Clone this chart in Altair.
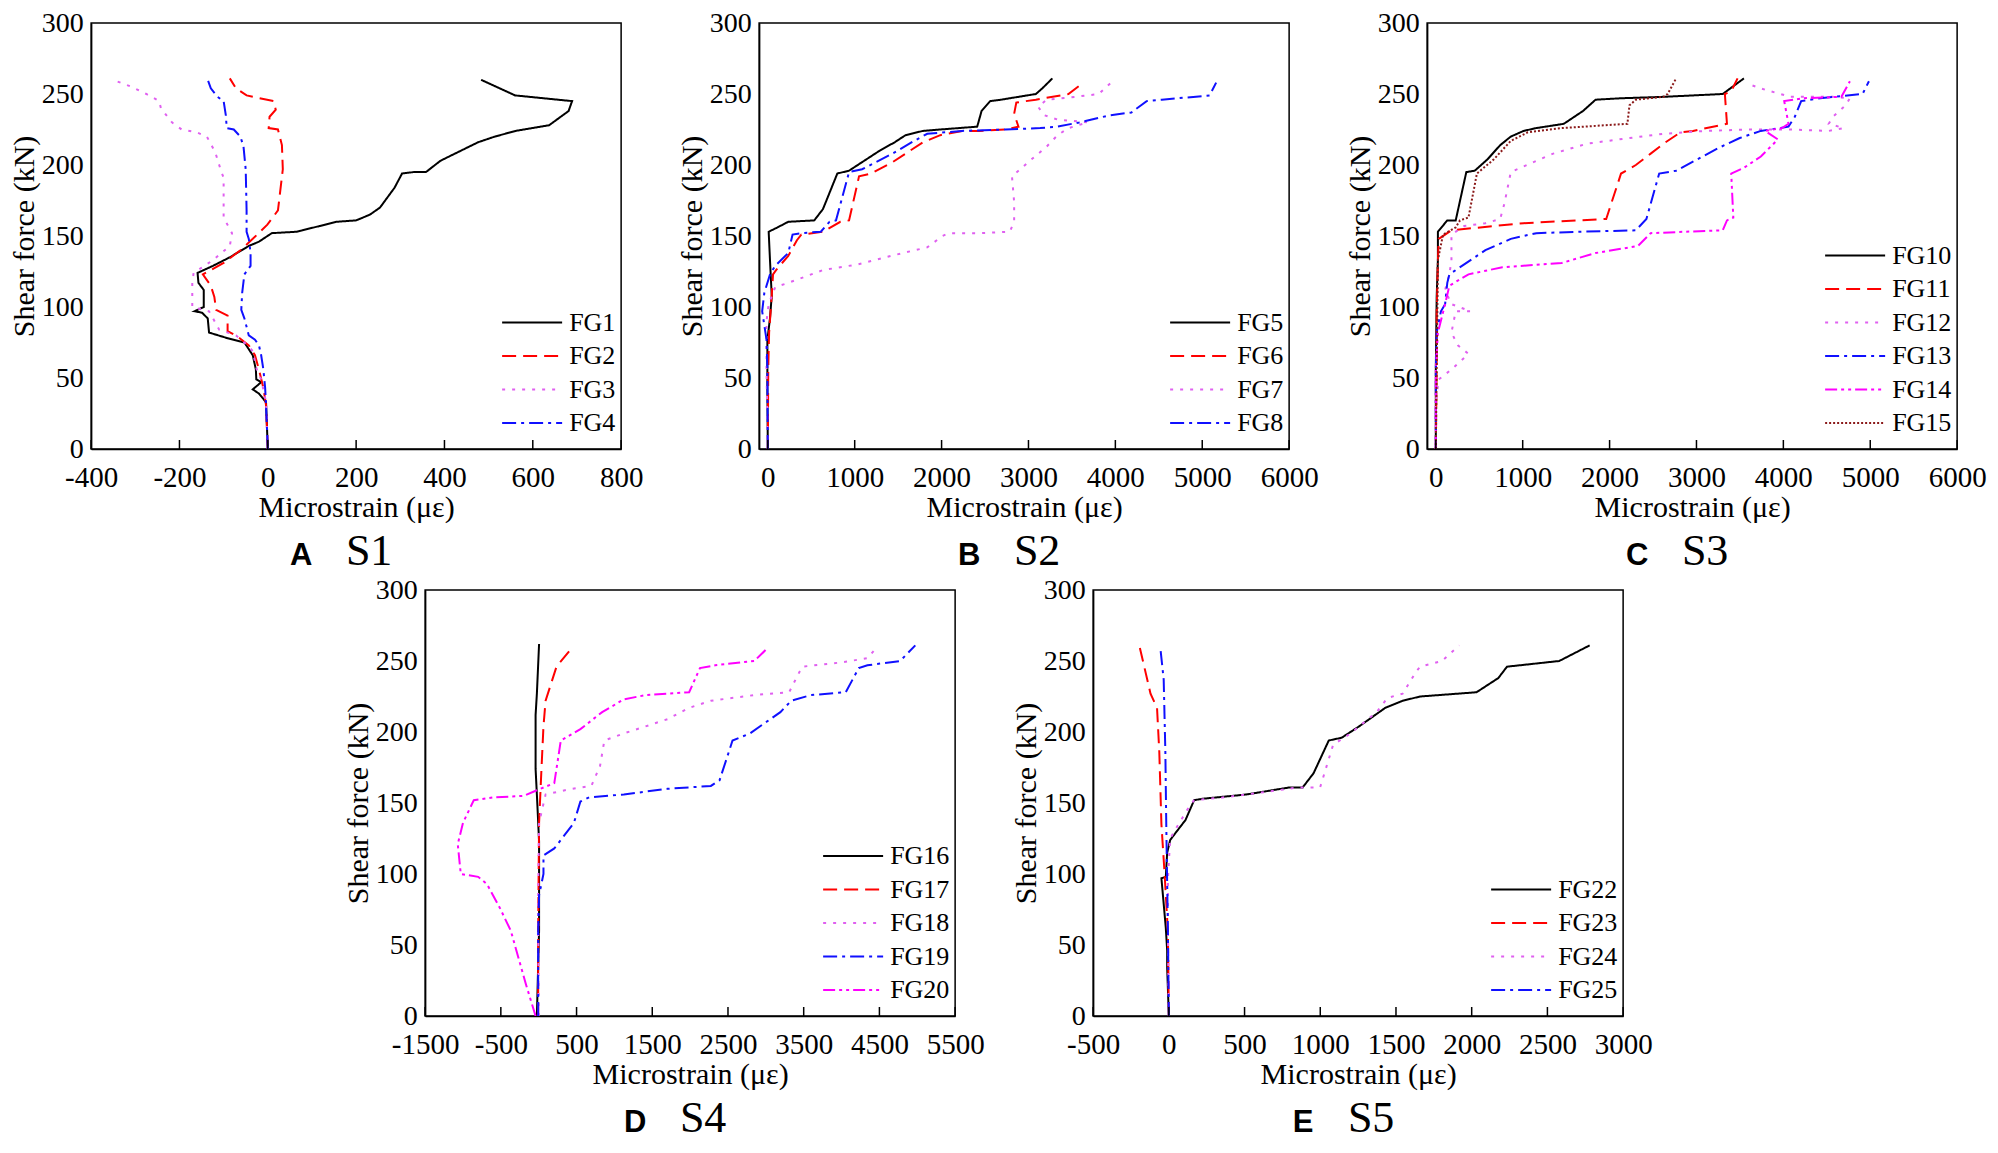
import altair as alt
import pandas as pd

# ---------------- shared ----------------
Y_TICKS = [0, 50, 100, 150, 200, 250, 300]
X_TITLE = "Microstrain (με)"
Y_TITLE = "Shear force (kN)"

# ---------------- Panel A : S1 ----------------
A_XDOM = [-400, 800]
A_XTICKS = [-400, -200, 0, 200, 400, 600, 800]
A_NAMES = ["FG1", "FG2", "FG3", "FG4"]
FG1_x = [0, -4, -20, -34, -15, -26, -27, -34, -53, -91, -133, -136, -149, -166, -145, -145, -157, -159, -124, -86,
         -43, -20, 9, 65, 117, 155, 200, 231, 254, 287, 304, 330, 358, 391, 476, 514, 561, 637, 681, 689, 560, 483]
FG1_y = [0, 33, 39, 42, 47, 49, 56, 66, 75, 78, 82, 92, 96, 97, 100, 112, 117, 124, 129, 135,
         143, 146, 152, 153, 157, 160, 161, 165, 170, 184, 194, 195, 195, 203, 216, 220, 224, 228, 238, 245, 249, 260]
FG2_x = [0, -4, -10, -20, -29, -43, -72, -91, -91, -117, -121, -129, -147, -100, -62, -34, -1, 23, 34, 32, 23, 2, 4, 18, 13, -48, -72, -86]
FG2_y = [0, 31, 43, 56, 66, 73, 80, 83, 94, 98, 107, 115, 123, 131, 140, 148, 158, 168, 197, 214, 225, 226, 234, 239, 245, 249, 254, 261]
FG3_x = [0, -4, -15, -25, -34, -53, -72, -110, -124, -133, -171, -171, -168, -124, -86, -81, -100, -100, -105, -119, -138, -161, -195, -217, -242, -246, -275, -308, -351]
FG3_y = [0, 33, 49, 56, 69, 75, 80, 84, 92, 97, 100, 117, 124, 133, 143, 152, 163, 191, 195, 209, 220, 223, 225, 230, 240, 245, 250, 255, 260]
FG4_x = [0, -4, -6, -10, -15, -20, -29, -43, -53, -60, -58, -53, -39, -39, -43, -48, -48, -50, -55, -62, -77, -93, -95, -100, -114, -129, -136]
FG4_y = [0, 31, 43, 56, 66, 73, 77, 80, 92, 98, 110, 123, 129, 138, 148, 153, 168, 197, 213, 220, 225, 226, 235, 245, 248, 254, 260]

# ---------------- Panel B : S2 ----------------
B_XDOM = [-100, 6000]
B_XTICKS = [0, 1000, 2000, 3000, 4000, 5000, 6000]
B_NAMES = ["FG5", "FG6", "FG7", "FG8"]
FG5_x = [0, -5, -5, 25, 45, 25, 10, 110, 235, 535, 635, 800, 935, 1085, 1285, 1460, 1585, 1785, 1985, 2410, 2460, 2560, 2685, 3085, 3160, 3275]
FG5_y = [0, 44, 77, 92, 108, 133, 153, 156, 160, 161, 169, 194, 196, 202, 210, 216, 221, 224, 225, 227, 238, 245, 246, 250, 254, 261]
FG6_x = [0, 5, 15, 45, 60, 95, 235, 335, 385, 635, 835, 935, 1050, 1185, 1435, 1585, 1785, 1985, 2235, 2435, 2735, 2885, 2835, 2860, 3085, 3460, 3610]
FG6_y = [0, 57, 82, 108, 123, 126, 136, 147, 151, 153, 160, 161, 192, 194, 202, 208, 216, 221, 224, 224, 225, 227, 236, 244, 246, 250, 257]
FG7_x = [0, -15, -15, 10, 85, 235, 635, 1035, 1485, 1835, 2010, 2085, 2435, 2785, 2835, 2835, 2810, 2885, 3035, 3210, 3335, 3460, 3685, 3335, 3185, 3110, 3210, 3535, 3810, 3985]
FG7_y = [0, 57, 90, 102, 114, 117, 126, 130, 137, 142, 150, 152, 152, 153, 160, 174, 192, 196, 204, 213, 221, 226, 230, 232, 235, 241, 246, 248, 250, 260]
FG8_x = [0, -5, -15, -40, -65, -40, 25, 85, 235, 285, 385, 610, 710, 785, 935, 1085, 1435, 1685, 1835, 2235, 2735, 3135, 3335, 3585, 3935, 4185, 4360, 4535, 5085, 5160]
FG8_y = [0, 57, 77, 87, 97, 110, 123, 129, 138, 151, 152, 153, 160, 161, 195, 197, 208, 217, 222, 224, 225, 226, 227, 230, 235, 237, 245, 246, 249, 258]

# ---------------- Panel C : S3 ----------------
C_XDOM = [-100, 6000]
C_XTICKS = [0, 1000, 2000, 3000, 4000, 5000, 6000]
C_NAMES = ["FG10", "FG11", "FG12", "FG13", "FG14", "FG15"]
FG10_x = [0, 0, 10, 24, 24, 132, 229, 351, 449, 595, 741, 863, 1010, 1156, 1473, 1693, 1839, 2132, 2620, 3302, 3546]
FG10_y = [0, 56, 107, 133, 153, 161, 161, 195, 196, 204, 214, 220, 224, 226, 229, 238, 246, 247, 248, 250, 261]
FG11_x = [0, 10, 10, 24, 34, 180, 668, 1010, 1961, 2132, 2302, 2473, 2620, 2815, 2961, 3351, 3327, 3400, 3473]
FG11_y = [0, 56, 95, 133, 148, 154, 157, 159, 162, 194, 200, 208, 215, 223, 224, 229, 250, 252, 261]
FG12_x = [0, -5, 34, 180, 376, 254, 180, 229, 400, 180, 107, 156, 180, 180, 327, 571, 741, 790, 863, 1010,
          1351, 1741, 2229, 2620, 3107, 3595, 4083, 4522, 4693, 4522, 4571, 4717, 4766, 4571, 4083, 3790, 3595]
FG12_y = [0, 31, 49, 56, 67, 73, 82, 97, 97, 102, 112, 123, 133, 151, 157, 159, 162, 173, 195, 199,
          208, 215, 219, 222, 224, 225, 225, 224, 226, 229, 234, 242, 247, 248, 248, 253, 257]
FG13_x = [0, 0, 10, 59, 107, 132, 156, 327, 571, 863, 1156, 1644, 2302, 2424, 2571, 2766, 3010, 3254, 3498, 3741, 4059, 4132, 4205, 4424, 4912, 4985]
FG13_y = [0, 56, 82, 97, 102, 117, 123, 130, 140, 148, 152, 153, 154, 162, 194, 196, 204, 212, 219, 224, 227, 234, 245, 247, 250, 259]
FG14_x = [0, 0, 24, 107, 156, 376, 766, 1449, 1839, 2327, 2473, 2863, 3302, 3351, 3424, 3400, 3546, 3741, 3888, 3937, 3790, 3985, 4059, 4010, 4229, 4668, 4766]
FG14_y = [0, 56, 82, 102, 115, 123, 128, 131, 138, 143, 152, 153, 154, 161, 163, 194, 198, 206, 215, 218, 224, 226, 229, 245, 247, 248, 259]
FG15_x = [0, 10, 24, 83, 229, 278, 376, 473, 668, 863, 1059, 1449, 2205, 2229, 2302, 2620, 2668, 2766]
FG15_y = [0, 56, 133, 151, 156, 161, 163, 194, 204, 217, 223, 226, 229, 242, 246, 248, 250, 261]

# ---------------- Panel D : S4 ----------------
D_XDOM = [-1500, 5500]
D_XTICKS = [-1500, -500, 500, 1500, 2500, 3500, 4500, 5500]
D_NAMES = ["FG16", "FG17", "FG18", "FG19", "FG20"]
FG16_x = [-24, 5, 5, -24, -41, -41, -24, 5]
FG16_y = [0, 60, 123, 156, 174, 212, 227, 262]
FG17_x = [-7, -7, 5, 34, 63, 91, 235, 436]
FG17_y = [0, 60, 136, 171, 204, 222, 246, 259]
FG18_x = [0, -7, 5, 91, 436, 695, 810, 867, 1125, 1700, 1987, 2274, 2848, 3308, 3422, 3480, 3997, 4342, 4457]
FG18_y = [0, 85, 136, 156, 160, 162, 176, 194, 199, 209, 217, 222, 226, 228, 240, 246, 249, 252, 259]
FG19_x = [-7, -7, 5, 63, 63, 206, 465, 551, 666, 1125, 1700, 2274, 2389, 2560, 2790, 3192, 3336, 3595, 4055, 4227, 4342, 4773, 4974]
FG19_y = [0, 60, 85, 100, 113, 118, 136, 151, 154, 156, 160, 162, 166, 194, 199, 214, 222, 226, 228, 245, 247, 250, 261]
FG20_x = [-41, -167, -368, -512, -684, -799, -1029, -1069, -1000, -857, -598, -196, -24, 206, 292, 551, 838, 1125, 1412, 1987, 2130, 2331, 2848, 3020]
FG20_y = [0, 22, 60, 76, 93, 98, 100, 121, 136, 152, 154, 155, 159, 164, 194, 202, 214, 223, 226, 228, 245, 247, 250, 259]

# ---------------- Panel E : S5 ----------------
E_XDOM = [-500, 3000]
E_XTICKS = [-500, 0, 500, 1000, 1500, 2000, 2500, 3000]
E_NAMES = ["FG22", "FG23", "FG24", "FG25"]
FG22_x = [0, -11, -11, -20, -34, -49, -20, -11, 9, 52, 110, 167, 225, 512, 799, 884, 956, 1056, 1142, 1257, 1429, 1544, 1659, 2032, 2176, 2233, 2578, 2779]
FG22_y = [0, 34, 46, 62, 79, 97, 98, 115, 124, 130, 138, 152, 153, 156, 161, 161, 171, 194, 196, 204, 217, 222, 225, 228, 238, 246, 250, 261]
FG23_x = [0, -6, -29, -49, -63, -78, -121, -193]
FG23_y = [0, 59, 102, 135, 186, 217, 227, 260]
FG24_x = [0, -6, -6, 9, 52, 138, 167, 368, 655, 856, 999, 1085, 1200, 1372, 1444, 1544, 1630, 1659, 1803, 1918]
FG24_y = [0, 59, 97, 125, 133, 148, 152, 154, 158, 161, 161, 191, 199, 214, 224, 227, 242, 246, 250, 261]
FG25_x = [0, -6, -17, -23, -34, -57]
FG25_y = [0, 59, 135, 186, 237, 260]

# ---------------- styles ----------------
BLACK, RED, VIOLET, BLUE, MAGENTA, BROWN = "#000000", "#ff0000", "#e060f0", "#1010ff", "#ff00ff", "#8b1a1a"
SOLID, DASH, DOT, DASHDOT, DASHDOTDOT, FINEDOT = [1, 0], [14, 7], [3, 7], [14, 5, 3, 5], [12, 4, 3, 4, 3, 4], [2, 2]

W, H = 530, 426
SERIF = "Liberation Serif"
ROW_H, ROW_PAD = 26, 7.5


def panel(series, names, colors, dashes, xdom, xticks, letter, sname, legend_x):
    rows = []
    for name, xs, ys in series:
        for i, (a, b) in enumerate(zip(xs, ys)):
            rows.append({"series": name, "x": a, "y": b, "i": i})
    df = pd.DataFrame(rows)

    def xenc():
        return alt.X("x:Q", scale=alt.Scale(domain=xdom, nice=False, zero=False),
                     axis=alt.Axis(values=xticks, title=X_TITLE, labelExpr="'' + datum.value"))

    n = len(names)
    legend = alt.Legend(title=None, orient="none", legendX=legend_x,
                        legendY=H - 13 - (n * ROW_H + (n - 1) * ROW_PAD),
                        symbolType="stroke", symbolSize=3600, symbolStrokeWidth=2, clipHeight=ROW_H,
                        labelFont=SERIF, labelFontSize=26, labelColor="black",
                        labelOffset=6, rowPadding=ROW_PAD, padding=0)
    lines = alt.Chart(df).mark_line(strokeWidth=2, clip=True).encode(
        x=xenc(),
        y=alt.Y("y:Q", scale=alt.Scale(domain=[0, 300], nice=False),
                axis=alt.Axis(values=Y_TICKS, title=Y_TITLE, labelFontSize=28)),
        color=alt.Color("series:N", scale=alt.Scale(domain=names, range=colors), legend=legend),
        strokeDash=alt.StrokeDash("series:N", scale=alt.Scale(domain=names, range=dashes), legend=legend),
        order=alt.Order("i:Q"),
    )
    ticks = alt.Chart(pd.DataFrame({"x": xticks})).mark_rule(color="black", strokeWidth=1.5).encode(
        x=xenc(), y=alt.value(H), y2=alt.value(H - 9))
    lab1 = alt.Chart(pd.DataFrame({"t": [letter]})).mark_text(
        font="Liberation Sans", fontWeight="bold", fontSize=31, align="center", baseline="alphabetic",
        color="black").encode(text="t:N", x=alt.value(210), y=alt.value(H + 116))
    lab2 = alt.Chart(pd.DataFrame({"t": [sname]})).mark_text(
        font=SERIF, fontSize=44, align="center", baseline="alphabetic",
        color="black").encode(text="t:N", x=alt.value(278), y=alt.value(H + 116))
    return alt.layer(lines, ticks, lab1, lab2).properties(width=W, height=H)


pA = panel([("FG1", FG1_x, FG1_y), ("FG2", FG2_x, FG2_y), ("FG3", FG3_x, FG3_y), ("FG4", FG4_x, FG4_y)],
           A_NAMES, [BLACK, RED, VIOLET, BLUE], [SOLID, DASH, DOT, DASHDOT], A_XDOM, A_XTICKS, "A", "S1", 410)
pB = panel([("FG5", FG5_x, FG5_y), ("FG6", FG6_x, FG6_y), ("FG7", FG7_x, FG7_y), ("FG8", FG8_x, FG8_y)],
           B_NAMES, [BLACK, RED, VIOLET, BLUE], [SOLID, DASH, DOT, DASHDOT], B_XDOM, B_XTICKS, "B", "S2", 410)
pC = panel([("FG10", FG10_x, FG10_y), ("FG11", FG11_x, FG11_y), ("FG12", FG12_x, FG12_y),
            ("FG13", FG13_x, FG13_y), ("FG14", FG14_x, FG14_y), ("FG15", FG15_x, FG15_y)],
           C_NAMES, [BLACK, RED, VIOLET, BLUE, MAGENTA, BROWN], [SOLID, DASH, DOT, DASHDOT, DASHDOTDOT, FINEDOT],
           C_XDOM, C_XTICKS, "C", "S3", 397)
pD = panel([("FG16", FG16_x, FG16_y), ("FG17", FG17_x, FG17_y), ("FG18", FG18_x, FG18_y),
            ("FG19", FG19_x, FG19_y), ("FG20", FG20_x, FG20_y)],
           D_NAMES, [BLACK, RED, VIOLET, BLUE, MAGENTA], [SOLID, DASH, DOT, DASHDOT, DASHDOTDOT],
           D_XDOM, D_XTICKS, "D", "S4", 397)
pE = panel([("FG22", FG22_x, FG22_y), ("FG23", FG23_x, FG23_y), ("FG24", FG24_x, FG24_y), ("FG25", FG25_x, FG25_y)],
           E_NAMES, [BLACK, RED, VIOLET, BLUE], [SOLID, DASH, DOT, DASHDOT], E_XDOM, E_XTICKS, "E", "S5", 397)

top = alt.hconcat(pA, pB, pC, spacing=138, bounds="flush").resolve_scale(
    color="independent", strokeDash="independent", x="independent")
bottom = alt.hconcat(pD, pE, spacing=138, bounds="flush").resolve_scale(
    color="independent", strokeDash="independent", x="independent")
chart = alt.vconcat(top, bottom, spacing=0, bounds="full", center=True).resolve_scale(
    color="independent", strokeDash="independent", x="independent")

chart = chart.properties(padding={"left": 0, "top": 0, "right": 0, "bottom": 0})

chart = chart.configure_view(stroke="black", strokeWidth=1.5).configure_axis(
    labelFont=SERIF, labelFontSize=29, labelColor="black",
    titleFont=SERIF, titleFontSize=30, titleFontWeight="normal", titleColor="black",
    domainColor="black", domainWidth=1.5, ticks=False, tickSize=0, grid=False,
    labelFlush=False, labelOverlap=False,
).configure_axisX(labelPadding=14, titlePadding=0).configure_axisY(labelPadding=8, titlePadding=2)

chart.save("out.html", embed_options={"renderer": "svg", "actions": False})
